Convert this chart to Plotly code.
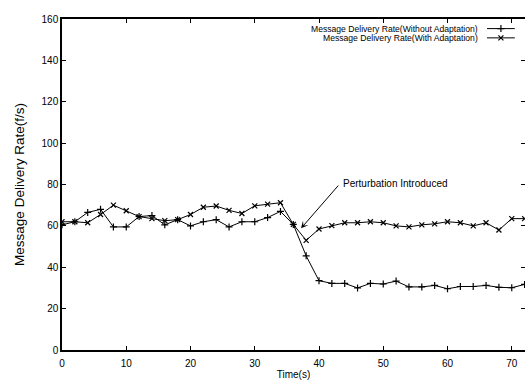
import plotly.graph_objects as go

time_s = list(range(0, 74, 2))
without_adapt = [60.5, 62, 66.5, 68, 59.5, 59.5, 64.5, 65, 60.5, 63,
                 60, 62, 63, 59.5, 62, 62, 64, 67, 60.7, 45.5,
                 33.5, 32.2, 32.2, 30, 32.2, 31.9, 33.3, 30.5, 30.5, 31.2,
                 29.6, 30.7, 30.7, 31.2, 30.3, 30.1, 31.7]
with_adapt = [62, 62, 61.5, 65.5, 70, 67.3, 64.5, 63.5, 62.5, 63,
              65.5, 69, 69.6, 67.5, 66, 69.7, 70.5, 71.2, 60.7, 53,
              58.5, 60.1, 61.5, 61.5, 62, 61.5, 60, 59.5, 60.5, 61,
              62, 61.5, 60, 61.5, 58, 63.5, 63.5]
series_names = ["Message Delivery Rate(Without Adaptation)",
                "Message Delivery Rate(With Adaptation)"]
x_ticks = [0, 10, 20, 30, 40, 50, 60, 70]
y_ticks = [0, 20, 40, 60, 80, 100, 120, 140, 160]
annot_text = "Perturbation Introduced"

FONT = "Liberation Sans, Arial, sans-serif"
fig = go.Figure()

fig.add_trace(go.Scatter(x=time_s, y=without_adapt, mode="lines+markers",
                         line=dict(color="black", width=1),
                         marker=dict(symbol="cross-thin", size=5, line=dict(color="black", width=1.2)),
                         showlegend=False))
fig.add_trace(go.Scatter(x=time_s, y=with_adapt, mode="lines+markers",
                         line=dict(color="black", width=1),
                         marker=dict(symbol="x-thin", size=5, line=dict(color="black", width=1.2)),
                         showlegend=False))

# manual legend (gnuplot style: text left, sample right)
leg_y = [0.971, 0.943]
syms = ["cross-thin", "x-thin"]
for i in range(2):
    fig.add_trace(go.Scatter(x=[0.918, 0.948, 0.978], y=[leg_y[i]] * 3,
                             mode="lines", line=dict(color="black", width=1),
                             xaxis="x2", yaxis="y3", showlegend=False, hoverinfo="skip"))
    fig.add_trace(go.Scatter(x=[0.948], y=[leg_y[i]], mode="markers",
                             marker=dict(symbol=syms[i], size=5, line=dict(color="black", width=1.2)),
                             xaxis="x2", yaxis="y3", showlegend=False, hoverinfo="skip"))
    fig.add_annotation(text=series_names[i], xref="paper", yref="paper",
                       x=0.903, y=leg_y[i], xanchor="right", yanchor="middle",
                       showarrow=False, font=dict(family=FONT, size=8.6, color="black"))

fig.add_annotation(text="", x=37.2, y=58.8, ax=43.2, ay=80.2, axref="x", ayref="y",
                   showarrow=True, arrowhead=3, arrowsize=1.2, arrowwidth=1, arrowcolor="black")
fig.add_annotation(text=annot_text, x=43.4, y=80.4, xanchor="left", yanchor="middle",
                   showarrow=False, font=dict(family=FONT, size=10, color="black"))

axis_common = dict(showgrid=False, zeroline=False, ticks="inside", ticklen=4,
                   tickcolor="black", tickwidth=1,
                   tickfont=dict(family=FONT, size=10, color="black"))

fig.update_layout(
    width=525, height=380,
    margin=dict(l=62, r=0, t=19, b=30),
    paper_bgcolor="white", plot_bgcolor="white",
    xaxis=dict(range=[0, 72.06], tickvals=x_ticks, showline=True, linecolor="black",
               linewidth=1.5, mirror="ticks", ticklabelstandoff=3,
               title=dict(text="Time(s)", font=dict(family=FONT, size=10, color="black"), standoff=3),
               **axis_common),
    yaxis=dict(range=[0, 160], tickvals=y_ticks, showline=True, linecolor="black",
               linewidth=1.5, mirror=False,
               title=dict(text="Message Delivery Rate(f/s)", font=dict(family=FONT, size=13.5, color="black"), standoff=14),
               **axis_common),
    yaxis2=dict(range=[0, 160], tickvals=y_ticks, overlaying="y", side="right",
                showticklabels=False, showline=False, **axis_common),
    xaxis2=dict(range=[0, 1], overlaying="x", visible=False),
    yaxis3=dict(range=[0, 1], overlaying="y", visible=False),
)
fig.add_trace(go.Scatter(x=[None], y=[None], yaxis="y2", showlegend=False))

fig.write_html("out.html", config={"displayModeBar": False},
               post_script="document.body.style.margin='0';document.body.style.overflow='hidden';")
